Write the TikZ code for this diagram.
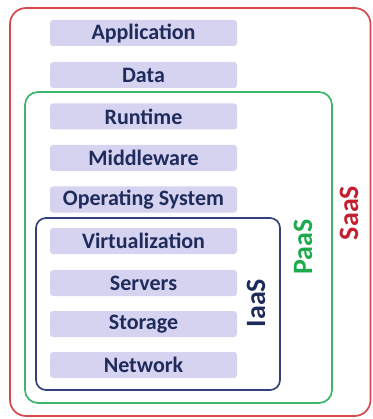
\documentclass[tikz,border=0pt]{standalone}
\usepackage{fontspec}
\setmainfont{Carlito}
\definecolor{saasred}{HTML}{D9474B}
\definecolor{paasgreen}{HTML}{3DB56A}
\definecolor{iaasnavy}{HTML}{34407A}
\definecolor{barfill}{HTML}{D5D3F0}
\definecolor{bartext}{HTML}{1F2B5B}
\definecolor{saastext}{HTML}{C41E30}
\definecolor{paastext}{HTML}{1DAA4C}
\tikzset{
  layerbar/.style={fill=barfill, draw=none, rounded corners=3pt, minimum width=187pt, minimum height=26pt, inner sep=0pt,
     font=\fontsize{22}{22}\selectfont\bfseries, text=bartext},
  frame/.style={line width=1.7pt, rounded corners=#1},
  vlabel/.style={rotate=90, font=\fontsize{28}{28}\selectfont\bfseries, inner sep=0pt}
}
\begin{document}
\begin{tikzpicture}[x=1pt,y=-1pt]
\useasboundingbox (0,0) rectangle (372,419);
\draw[frame=16pt, saasred] (10,8) rectangle (370.5,416);
\draw[frame=13pt, paasgreen] (25,92) rectangle (332,403);
\draw[frame=10pt, iaasnavy] (36,218) rectangle (280,390);
\node[layerbar] (app) at (143.5,33) {Application};
\node[layerbar] (data) at (143.5,75) {Data};
\node[layerbar] (run) at (143.5,116.5) {Runtime};
\node[layerbar] (mid) at (143.5,158) {Middleware};
\node[layerbar] (os) at (143.5,199.5) {Operating System};
\node[layerbar] (virt) at (143.5,241) {Virtualization};
\node[layerbar] (serv) at (143.5,283) {Servers};
\node[layerbar] (stor) at (143.5,324) {Storage};
\node[layerbar] (net) at (143.5,365) {Network};
\node[vlabel, text=saastext] (saas) at (349,213) {SaaS};
\node[vlabel, text=paastext] (paas) at (303,247) {PaaS};
\node[vlabel, text=bartext] (iaas) at (256,303) {IaaS};
\end{tikzpicture}
\end{document}
